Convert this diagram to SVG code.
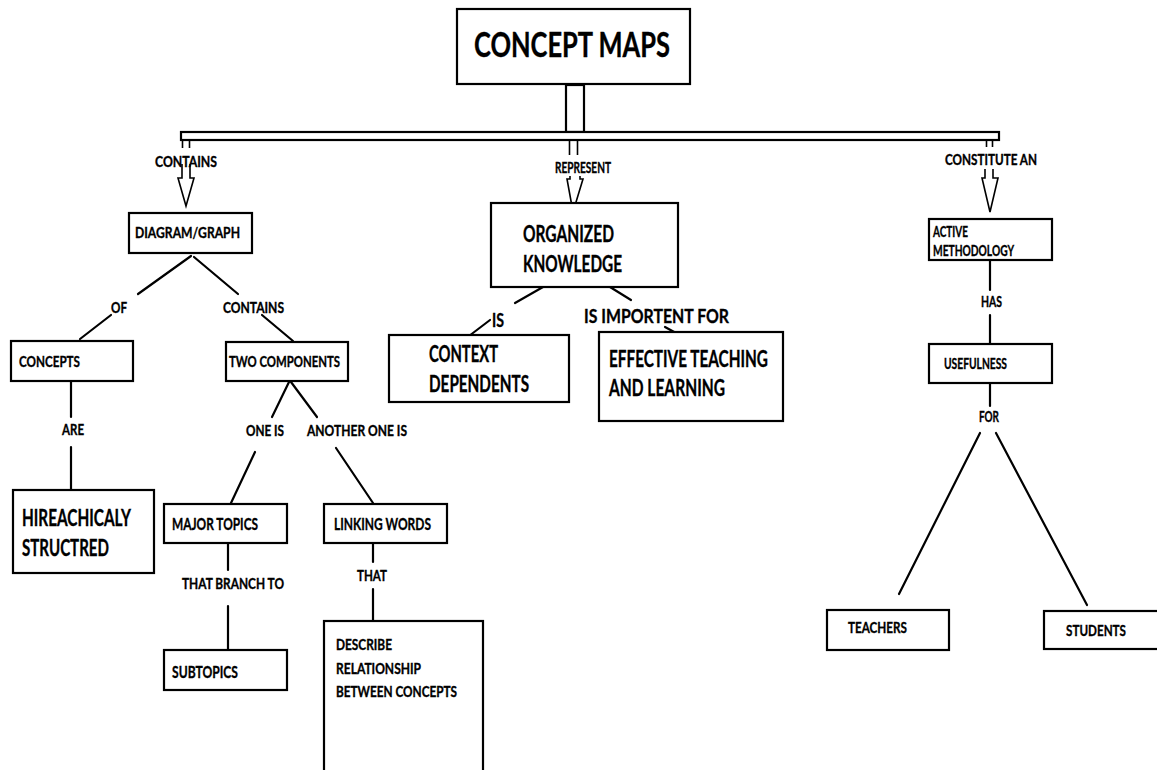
<svg xmlns="http://www.w3.org/2000/svg" width="1157" height="770" viewBox="0 0 1157 770">
  <style>
    .box { fill: #ffffff; stroke: #000000; stroke-width: 2.2; }
    .ln { fill: none; stroke: #000000; stroke-width: 2.2; stroke-linecap: round; }
    .thin { fill: none; stroke: #000000; stroke-width: 1.6; }
    .arr { fill: #ffffff; stroke: #000000; stroke-width: 1.6; stroke-linejoin: miter; }
    text { font-family: Lato, "Liberation Sans", sans-serif; font-weight: bold; fill: #000000; stroke: #000000; stroke-width: 0.35; }
    .s14 { font-size: 15px; }
    .s15 { font-size: 16px; }
    .s16 { font-size: 17px; }
    .s18 { font-size: 19.5px; }
    .s21 { font-size: 22px; }
  </style>
  <rect width="1157" height="770" fill="#ffffff"/>

  <!-- connectors -->
  <g id="connectors">
    <!-- stem and branching bar under the title -->
    <rect class="box" x="566" y="85" width="18" height="47"/>
    <rect class="box" x="181" y="132" width="818" height="8"/>
    <!-- stubs hanging from the bar -->
    <path class="thin" d="M182.5,141 V148 M189.5,141 V148"/>
    <path class="thin" d="M569.5,141 V155 M577.5,141 V155"/>
    <path class="thin" d="M986.5,141 V147 M992.5,141 V147"/>
    <!-- hollow block arrows -->
    <path class="arr" d="M182,164 V178 H178 L186,206 L194,178 H190 V164"/>
    <path class="arr" d="M570,176 V179 H567 L573,212 L583,179 H580 V176"/>
    <path class="arr" d="M985,169 V178 H982 L990,212 L998,178 H993 V169"/>

    <!-- DIAGRAM/GRAPH branches -->
    <path class="ln" d="M191,256 L138,294"/>
    <path class="ln" d="M111,315 L80,339"/>
    <path class="ln" d="M194,257 L238,294"/>
    <path class="ln" d="M262,315 L293,341"/>

    <!-- CONCEPTS -> HIREACHICALY -->
    <path class="ln" d="M71,381 V417"/>
    <path class="ln" d="M71,447 V491"/>

    <!-- TWO COMPONENTS branches -->
    <path class="ln" d="M289,382 L272,417"/>
    <path class="ln" d="M291,382 L317,417"/>
    <path class="ln" d="M255,452 L231,503"/>
    <path class="ln" d="M336,448 L373,503"/>

    <!-- MAJOR TOPICS -> SUBTOPICS -->
    <path class="ln" d="M228,543 V570"/>
    <path class="ln" d="M228,606 V649"/>

    <!-- LINKING WORDS -> DESCRIBE -->
    <path class="ln" d="M373,543 V562"/>
    <path class="ln" d="M373,589 V621"/>

    <!-- ORGANIZED KNOWLEDGE branches -->
    <path class="ln" d="M543,287 L515,303"/>
    <path class="ln" d="M490,320 L469,336"/>
    <path class="ln" d="M610,287 L631,300"/>
    <path class="ln" d="M665,327 L676,333"/>

    <!-- right column -->
    <path class="ln" d="M990,260 V290"/>
    <path class="ln" d="M990,315 V344"/>
    <path class="ln" d="M990,383 V406"/>
    <path class="ln" d="M980,433 L899,594"/>
    <path class="ln" d="M996,433 L1087,605"/>
  </g>

  <!-- link labels -->
  <g id="labels">
    <text class="s14" x="155" y="167" textLength="62" lengthAdjust="spacingAndGlyphs">CONTAINS</text>
    <text class="s14" x="555" y="173" textLength="56" lengthAdjust="spacingAndGlyphs">REPRESENT</text>
    <text class="s14" x="945" y="165" textLength="92" lengthAdjust="spacingAndGlyphs">CONSTITUTE AN</text>
    <text class="s15" x="111" y="313" textLength="16" lengthAdjust="spacingAndGlyphs">OF</text>
    <text class="s15" x="223" y="313" textLength="61" lengthAdjust="spacingAndGlyphs">CONTAINS</text>
    <text class="s14" x="62" y="435" textLength="22" lengthAdjust="spacingAndGlyphs">ARE</text>
    <text class="s14" x="246" y="436" textLength="38" lengthAdjust="spacingAndGlyphs">ONE IS</text>
    <text class="s14" x="307" y="436" textLength="100" lengthAdjust="spacingAndGlyphs">ANOTHER ONE IS</text>
    <text class="s14" x="182" y="589" textLength="102" lengthAdjust="spacingAndGlyphs">THAT BRANCH TO</text>
    <text class="s14" x="357" y="581" textLength="30" lengthAdjust="spacingAndGlyphs">THAT</text>
    <text class="s18" x="492" y="327" textLength="12" lengthAdjust="spacingAndGlyphs">IS</text>
    <text class="s18" x="584" y="323" textLength="145" lengthAdjust="spacingAndGlyphs">IS IMPORTENT FOR</text>
    <text class="s14" x="981" y="307" textLength="21" lengthAdjust="spacingAndGlyphs">HAS</text>
    <text class="s14" x="979" y="422" textLength="20" lengthAdjust="spacingAndGlyphs">FOR</text>
  </g>

  <g id="concept-maps">
    <rect class="box" x="457" y="9" width="233" height="75"/>
    <text x="474" y="57" font-size="34" textLength="196" lengthAdjust="spacingAndGlyphs">CONCEPT MAPS</text>
  </g>

  <g id="diagram-graph">
    <rect class="box" x="129" y="213" width="123" height="40"/>
    <text class="s15" x="135" y="238" textLength="105" lengthAdjust="spacingAndGlyphs">DIAGRAM/GRAPH</text>
  </g>

  <g id="concepts">
    <rect class="box" x="11" y="341" width="122" height="40"/>
    <text class="s15" x="19" y="367" textLength="61" lengthAdjust="spacingAndGlyphs">CONCEPTS</text>
  </g>

  <g id="two-components">
    <rect class="box" x="226" y="342" width="122" height="39"/>
    <text class="s15" x="229" y="367" textLength="111" lengthAdjust="spacingAndGlyphs">TWO COMPONENTS</text>
  </g>

  <g id="hierarchically-structured">
    <rect class="box" x="13" y="490" width="141" height="83"/>
    <text class="s21" x="22" y="526" textLength="109" lengthAdjust="spacingAndGlyphs">HIREACHICALY</text>
    <text class="s21" x="22" y="556" textLength="87" lengthAdjust="spacingAndGlyphs">STRUCTRED</text>
  </g>

  <g id="major-topics">
    <rect class="box" x="164" y="504" width="123" height="39"/>
    <text class="s16" x="172" y="530" textLength="86" lengthAdjust="spacingAndGlyphs">MAJOR TOPICS</text>
  </g>

  <g id="linking-words">
    <rect class="box" x="324" y="504" width="123" height="39"/>
    <text class="s16" x="334" y="530" textLength="97" lengthAdjust="spacingAndGlyphs">LINKING WORDS</text>
  </g>

  <g id="subtopics">
    <rect class="box" x="164" y="650" width="123" height="40"/>
    <text class="s16" x="172" y="678" textLength="66" lengthAdjust="spacingAndGlyphs">SUBTOPICS</text>
  </g>

  <g id="describe-relationship">
    <rect class="box" x="324" y="621" width="159" height="152"/>
    <text class="s14" x="336" y="650" textLength="56" lengthAdjust="spacingAndGlyphs">DESCRIBE</text>
    <text class="s14" x="336" y="674" textLength="85" lengthAdjust="spacingAndGlyphs">RELATIONSHIP</text>
    <text class="s14" x="336" y="697" textLength="121" lengthAdjust="spacingAndGlyphs">BETWEEN CONCEPTS</text>
  </g>

  <g id="organized-knowledge">
    <rect class="box" x="491" y="203" width="187" height="84"/>
    <text class="s21" x="523" y="242" textLength="91" lengthAdjust="spacingAndGlyphs">ORGANIZED</text>
    <text class="s21" x="523" y="272" textLength="99" lengthAdjust="spacingAndGlyphs">KNOWLEDGE</text>
  </g>

  <g id="context-dependents">
    <rect class="box" x="389" y="335" width="180" height="67"/>
    <text class="s21" x="429" y="362" textLength="69" lengthAdjust="spacingAndGlyphs">CONTEXT</text>
    <text class="s21" x="429" y="392" textLength="100" lengthAdjust="spacingAndGlyphs">DEPENDENTS</text>
  </g>

  <g id="effective-teaching">
    <rect class="box" x="599" y="332" width="184" height="89"/>
    <text class="s21" x="609" y="367" textLength="159" lengthAdjust="spacingAndGlyphs">EFFECTIVE TEACHING</text>
    <text class="s21" x="609" y="396" textLength="116" lengthAdjust="spacingAndGlyphs">AND LEARNING</text>
  </g>

  <g id="active-methodology">
    <rect class="box" x="929" y="219" width="123" height="41"/>
    <text class="s14" x="933" y="237" textLength="35" lengthAdjust="spacingAndGlyphs">ACTIVE</text>
    <text class="s14" x="933" y="256" textLength="81" lengthAdjust="spacingAndGlyphs">METHODOLOGY</text>
  </g>

  <g id="usefulness">
    <rect class="box" x="929" y="344" width="123" height="39"/>
    <text class="s14" x="944" y="369" textLength="63" lengthAdjust="spacingAndGlyphs">USEFULNESS</text>
  </g>

  <g id="teachers">
    <rect class="box" x="827" y="610" width="122" height="40"/>
    <text class="s15" x="848" y="633" textLength="59" lengthAdjust="spacingAndGlyphs">TEACHERS</text>
  </g>

  <g id="students">
    <rect class="box" x="1044" y="611" width="130" height="38"/>
    <text class="s15" x="1066" y="636" textLength="60" lengthAdjust="spacingAndGlyphs">STUDENTS</text>
  </g>
</svg>
